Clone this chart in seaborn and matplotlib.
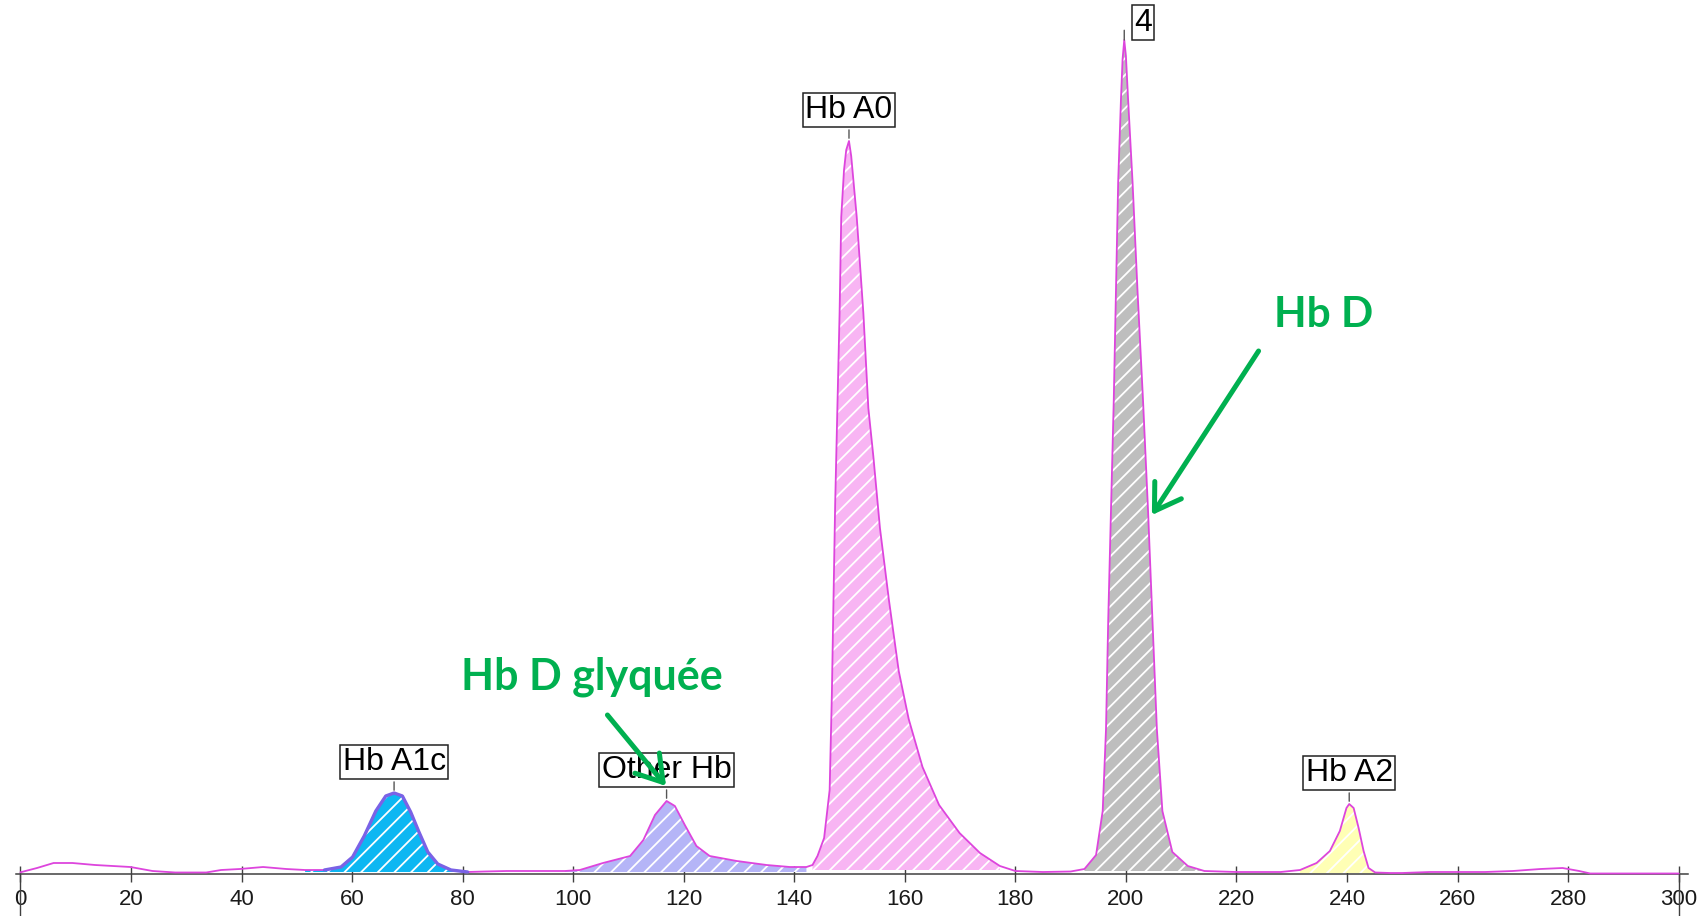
import numpy as np
import pandas as pd
import matplotlib
matplotlib.use("Agg")
import matplotlib.pyplot as plt
import seaborn as sns

# ---- data ----
time = [0, 3, 6, 9.4, 13.5, 19.9, 23.9, 28, 33.6, 36.3, 39.7, 43.9, 48.1, 51.5,
        55, 58.0, 60.1, 62.2, 64.3, 66.1, 67.6, 69.1, 70.6, 72.1, 73.7, 75.5, 77.9,
        80.9, 84, 88, 93, 98.5, 101.2, 105.4, 110.3, 112.7, 114.8, 116.9, 118.4,
        120.2, 122.3, 124.7, 129.6, 135.0, 139.2, 142.2, 143.3, 144.2, 145.4, 146.4,
        146.8, 147.1, 147.4, 147.8, 148.2, 148.5, 149.0, 149.4, 149.9, 150.3, 151.3,
        152.5, 153.4, 154.3, 155.5, 157.1, 158.9, 160.7, 163.2, 166.2, 169.9, 173.6,
        177.2, 180, 185, 190, 192.5, 194.6, 195.8, 196.4, 196.8, 197.3, 197.8, 198.2,
        198.6, 199.1, 199.4, 199.7, 200.0, 200.4, 201.2, 202.1, 203.1, 204.0, 204.8,
        205.6, 206.6, 208.4, 211.2, 214.2, 220, 225, 228, 231.5, 234.5, 236.9, 238.7,
        239.9, 240.4, 241.2, 242.1, 243.0, 243.9, 245.1, 247.8, 250, 255, 260, 265,
        270, 275, 279, 282, 284, 290, 300]
signal = [1.7, 6, 11, 11, 9, 7, 3, 1.5, 1.5, 4, 5, 7, 5, 4,
          4, 7, 17, 38, 63, 78, 81, 78, 62, 42, 22, 10, 4,
          2, 2.5, 3, 3, 3, 4, 11, 18, 34, 59, 73, 68,
          49, 28, 18, 13, 9, 7, 7, 9, 18, 36, 84,
          179, 275, 370, 466, 561, 657, 704, 724, 733, 718, 657,
          561, 466, 418, 346, 275, 203, 155, 107, 69, 41, 21,
          8, 3, 2, 2.5, 5, 19, 63, 145, 254, 364, 473, 583,
          692, 774, 815, 834, 818, 774, 692, 583, 473, 364, 254,
          145, 63, 22, 8, 3, 2, 2, 2, 4, 11, 23, 43,
          66, 70, 66, 46, 23, 6, 1.5, 1, 1, 2, 2, 2,
          3, 5, 6, 3, 0.5, 0.5, 0.5]

peak_names = ["Hb A1c", "Other Hb", "Hb A0", "4", "Hb A2"]
peak_start = [51.5, 98.5, 143.3, 192.5, 231.5]
peak_end = [84, 142.2, 177.2, 214.2, 245.1]
peak_base = [2, 2, 4, 3, 1]
peak_colors = ["#0DB7F2", "#B5B5F7", "#F8B5F3", "#BEBEBE", "#FFFFB5"]
x_ticks = list(range(0, 301, 20))

green_labels = ["Hb D glyquée", "Hb D"]
green_text_pos = [(103.4, 197), (235.8, 559)]
green_arrow_tail = [(106.2, 159), (224.0, 523)]
green_arrow_head = [(116.8, 88), (204.7, 359)]

# ---- style ----
sns.set_style("white")
plt.rcParams["font.family"] = ["Liberation Sans", "DejaVu Sans"]
plt.rcParams["hatch.linewidth"] = 1.3

W, H = 1707, 916
fig = plt.figure(figsize=(W / 100, H / 100), dpi=100)
ax = fig.add_axes([16 / W, 0, (1687.5 - 16) / W, 1])

df = pd.DataFrame({"time": time, "signal": signal})
t = df["time"].to_numpy()
s = df["signal"].to_numpy()

# filled, hatched peak areas
for name, a, b, base, col in zip(peak_names, peak_start, peak_end, peak_base, peak_colors):
    m = (t >= a) & (t <= b)
    ax.fill_between(t[m], s[m], base, facecolor=col, edgecolor="white",
                    hatch="//", linewidth=0, zorder=1)

# trace
sns.lineplot(data=df, x="time", y="signal", ax=ax, color="#DD45DD",
             linewidth=1.3, zorder=3)
a1c = df[(df["time"] >= 55) & (df["time"] <= 81)]
sns.lineplot(data=a1c, x="time", y="signal", ax=ax, color="#7A62E6",
             linewidth=2.4, zorder=4)

# peak labels
for i, (name, a, b) in enumerate(zip(peak_names, peak_start, peak_end)):
    m = (t >= a) & (t <= b)
    k = np.argmax(s[m])
    px, py = t[m][k], s[m][k]
    if name == "4":
        off = (13.5, 12.5)
        ax.annotate("", xy=(px, py), xytext=(0, 7), textcoords="offset points",
                    arrowprops=dict(arrowstyle="-", color="#555555", lw=1,
                                    shrinkA=0, shrinkB=0), zorder=5)
    else:
        off = (0, 22.5)
        ax.annotate("", xy=(px, py), xytext=(0, 8), textcoords="offset points",
                    arrowprops=dict(arrowstyle="-", color="#555555", lw=1,
                                    shrinkA=0, shrinkB=2), zorder=5)
    ax.annotate(name, xy=(px, py), xytext=off, textcoords="offset points",
                ha="center", va="center", fontsize=23, color="black",
                bbox=dict(boxstyle="square,pad=0.07", fc="white", ec="#222222", lw=1.1),
                zorder=6)

# green annotations
green = "#00B050"
green_sizes = [31, 30.5]
for lab, pos, fs in zip(green_labels, green_text_pos, green_sizes):
    ax.text(pos[0], pos[1], lab, ha="center", va="center", fontsize=fs,
            fontweight="bold", color=green, family=["Lato", "DejaVu Sans"], zorder=8)
for tail, head in zip(green_arrow_tail, green_arrow_head):
    ax.annotate("", xy=head, xytext=tail,
                arrowprops=dict(arrowstyle="->,head_length=0.6,head_width=0.38",
                                lw=3.6, color=green, mutation_scale=30,
                                shrinkA=0, shrinkB=0), zorder=9)

# axes
ax.set_xlim(-0.8, 301.6)
ax.set_ylim(-42, 874)
for sp in ["left", "right", "top"]:
    ax.spines[sp].set_visible(False)
ax.spines["bottom"].set_position(("data", 0))
ax.spines["bottom"].set_color("#404040")
ax.spines["bottom"].set_linewidth(1.1)
ax.xaxis.remove_overlapping_locs = False
ax.set_xticks(x_ticks)
ax.set_xticklabels([str(v) for v in x_ticks])
ax.set_xticks([0, 300], minor=True)
ax.tick_params(axis="x", which="major", bottom=True, direction="inout", length=11,
               width=1, color="#404040", labelsize=16, pad=5, labelcolor="#1a1a1a")
ax.tick_params(axis="x", which="minor", bottom=True, direction="out", length=34,
               width=1, color="#404040")
ax.set_yticks([])
ax.set_xlabel("")
ax.set_ylabel("")
ax.patch.set_alpha(0)

fig.savefig("out.png", dpi=100, facecolor="white")
